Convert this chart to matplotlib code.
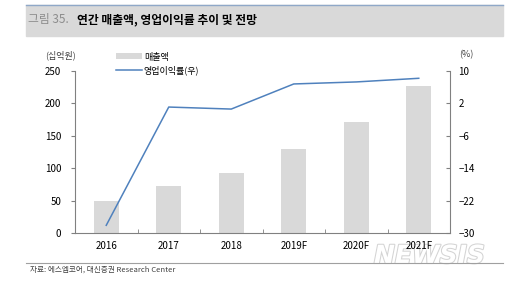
import matplotlib
matplotlib.use("Agg")
import matplotlib.pyplot as plt
import matplotlib.patheffects as pe
import numpy as np

plt.rcParams["font.family"] = ["Noto Sans CJK KR", "DejaVu Sans"]
plt.rcParams["axes.unicode_minus"] = True

# data
years = ["2016", "2017", "2018", "2019F", "2020F", "2021F"]
sales = [50, 72, 93, 130, 172, 227]          # 매출액 (십억원)
op_margin = [-28.1, 1.1, 0.6, 6.8, 7.3, 8.2]  # 영업이익률 (%)
left_ticks = [0, 50, 100, 150, 200, 250]
right_ticks = [-30, -22, -14, -6, 2, 10]

bar_color = "#d9d9d9"
line_color = "#4f81bd"
spine_color = "#808080"

W, H = 525, 285
fig = plt.figure(figsize=(W / 100, H / 100), dpi=100)

# title band
fig.patches.append(plt.Rectangle((26 / W, 1 - 36 / H), (503 - 26) / W, 31 / H,
                                 transform=fig.transFigure, color="#d9d9d9", zorder=0))
fig.add_artist(plt.Line2D([26 / W, 503 / W], [1 - 5 / H] * 2,
                          transform=fig.transFigure, color="#8fa8c8", lw=1.0))
fig.text(28 / W, 1 - 20 / H, "그림 35.", fontsize=8.5, color="#8c8c8c", va="center")
fig.text(77 / W, 1 - 20 / H, "연간 매출액, 영업이익률 추이 및 전망", fontsize=8.5,
         fontweight="bold", color="#000000", va="center")

ax = fig.add_axes([75 / W, 52 / H, 375 / W, 162 / H])
ax.patch.set_alpha(0)
x = np.arange(len(years))
ax.bar(x, sales, width=0.4, color=bar_color, zorder=1, label="매출액")
ax.set_xlim(-0.5, len(years) - 0.5)
ax.set_ylim(0, 250)
ax.set_yticks(left_ticks)
ax.set_xticks(x)
ax.set_xticklabels(years)
ax.set_xticks(np.arange(-0.5, len(years), 1), minor=True)
ax.tick_params(axis="x", which="major", length=0, labelsize=7, pad=6)
ax.tick_params(axis="x", which="minor", length=3, direction="in", color=spine_color)
ax.tick_params(axis="y", length=3, direction="out", labelsize=7, pad=7, color=spine_color)
for s in ["top", "right"]:
    ax.spines[s].set_visible(False)
for s in ["left", "bottom"]:
    ax.spines[s].set_color(spine_color)
    ax.spines[s].set_linewidth(0.8)

ax2 = ax.twinx()
ax2.patch.set_alpha(0)
ax2.plot(x, op_margin, color=line_color, lw=1.1, zorder=3, label="영업이익률(우)")
ax2.set_ylim(-30, 10)
ax2.set_yticks(right_ticks)
ax2.set_yticklabels([str(t).replace("-", "\u2212") for t in right_ticks])
ax2.tick_params(axis="y", length=3, direction="in", labelsize=7, pad=6, color=spine_color)
for s in ["top", "left", "bottom"]:
    ax2.spines[s].set_visible(False)
ax2.spines["right"].set_color(spine_color)
ax2.spines["right"].set_linewidth(0.8)

fig.text(60 / W, 1 - 55 / H, "(십억원)", fontsize=6.5, color="#404040", ha="center", va="center")
fig.text(466 / W, 1 - 55 / H, "(%)", fontsize=6.5, color="#404040", ha="center", va="center")

# legend
h1, l1 = ax.get_legend_handles_labels()
h2, l2 = ax2.get_legend_handles_labels()
fig.legend(h1 + h2, l1 + l2, loc="upper left", bbox_to_anchor=(111 / W, 1 - 48 / H),
           frameon=False, fontsize=6.5, handlelength=2.9, handleheight=0.6,
           labelspacing=0.45, borderpad=0, handletextpad=0.25)

# footer
fig.add_artist(plt.Line2D([26 / W, 503 / W], [1 - 263 / H] * 2,
                          transform=fig.transFigure, color="#a0a0a0", lw=0.8))
fig.text(30 / W, 1 - 270 / H, "자료: 에스엠코어, 대신증권 Research Center", fontsize=5.5,
         color="#404040", va="center")
# watermark, drawn under the axes so the tick labels stay on top
fig.text(374 / W, 1 - 256 / H, "NEWSIS", fontsize=18, fontstyle="italic",
         fontweight="bold", color="#ffffff", va="center", family="DejaVu Sans", zorder=-1,
         path_effects=[pe.withStroke(linewidth=1.5, foreground="#d4d4d4")])

fig.savefig("out.png", dpi=100)
